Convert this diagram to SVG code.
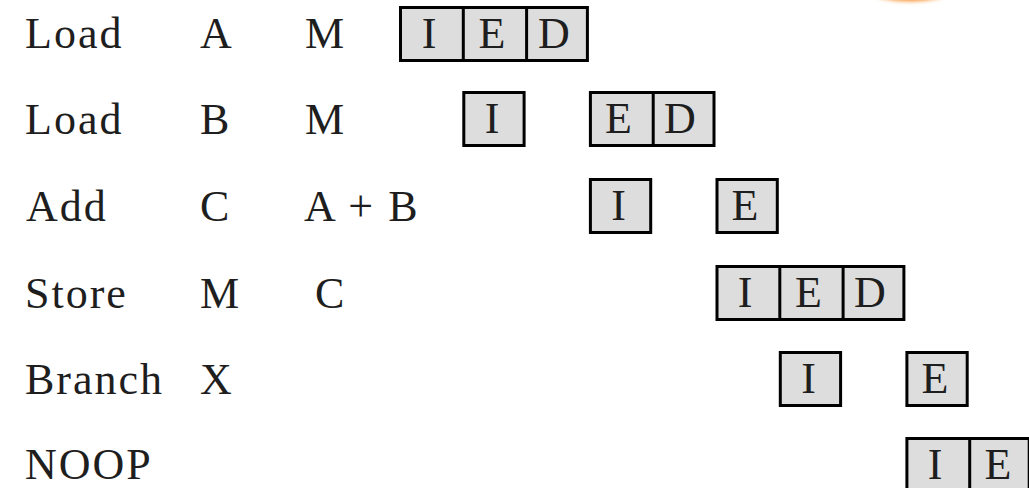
<svg xmlns="http://www.w3.org/2000/svg" width="1029" height="488" viewBox="0 0 1029 488" font-family="Liberation Serif, serif" font-size="44">
  <style>
    text { fill: #1e1e1e; }
    .w { letter-spacing: 2px; }
    .c { text-anchor: middle; }
    .cell { fill: #dddddd; stroke: #000000; stroke-width: 3; }
    .div { stroke: #000000; stroke-width: 3; }
  </style>
  <defs>
    <filter id="blur" x="-50%" y="-50%" width="200%" height="200%">
      <feGaussianBlur stdDeviation="2"/>
    </filter>
  </defs>
  <rect x="0" y="0" width="1029" height="488" fill="#ffffff"/>
  <ellipse cx="910" cy="-8" rx="37" ry="9" fill="#f5871f" filter="url(#blur)"/>

  <g id="row-load-a">
    <text class="w" x="25" y="48">Load</text>
    <text x="200" y="48">A</text>
    <text x="305" y="48">M</text>
    <rect class="cell" x="400.5" y="7.5" width="186.9" height="53"/>
    <line class="div" x1="463.3" y1="6" x2="463.3" y2="62"/>
    <line class="div" x1="526.6" y1="6" x2="526.6" y2="62"/>
    <text class="c" x="429" y="48">I</text>
    <text class="c" x="492" y="48">E</text>
    <text class="c" x="554" y="48">D</text>
  </g>

  <g id="row-load-b">
    <text class="w" x="25" y="134">Load</text>
    <text x="200" y="134">B</text>
    <text x="305" y="134">M</text>
    <rect class="cell" x="463.8" y="92.5" width="60.3" height="53"/>
    <text class="c" x="492" y="133">I</text>
    <rect class="cell" x="590.4" y="92.5" width="123.6" height="53"/>
    <line class="div" x1="653.2" y1="91" x2="653.2" y2="147"/>
    <text class="c" x="618.5" y="133">E</text>
    <text class="c" x="680" y="133">D</text>
  </g>

  <g id="row-add">
    <text class="w" x="26" y="221">Add</text>
    <text x="200" y="221">C</text>
    <text class="w" x="304" y="221">A + B</text>
    <rect class="cell" x="590.4" y="179.5" width="60.3" height="53"/>
    <text class="c" x="618.5" y="220">I</text>
    <rect class="cell" x="717" y="179.5" width="60.3" height="53"/>
    <text class="c" x="745" y="220">E</text>
  </g>

  <g id="row-store">
    <text class="w" x="25" y="308">Store</text>
    <text x="200" y="308">M</text>
    <text x="315" y="308">C</text>
    <rect class="cell" x="717" y="266.5" width="186.9" height="53"/>
    <line class="div" x1="779.8" y1="265" x2="779.8" y2="321"/>
    <line class="div" x1="843.1" y1="265" x2="843.1" y2="321"/>
    <text class="c" x="745" y="307">I</text>
    <text class="c" x="808.5" y="307">E</text>
    <text class="c" x="870" y="307">D</text>
  </g>

  <g id="row-branch">
    <text class="w" x="25" y="394">Branch</text>
    <text x="200" y="394">X</text>
    <rect class="cell" x="780.3" y="352.5" width="60.3" height="53"/>
    <text class="c" x="808.5" y="393">I</text>
    <rect class="cell" x="906.9" y="352.5" width="60.3" height="53"/>
    <text class="c" x="935" y="393">E</text>
  </g>

  <g id="row-noop">
    <text class="w" x="25" y="479">NOOP</text>
    <rect class="cell" x="906.9" y="438.5" width="122.3" height="53"/>
    <line class="div" x1="969.7" y1="437" x2="969.7" y2="492"/>
    <text class="c" x="935" y="479">I</text>
    <text class="c" x="998" y="479">E</text>
  </g>
</svg>
